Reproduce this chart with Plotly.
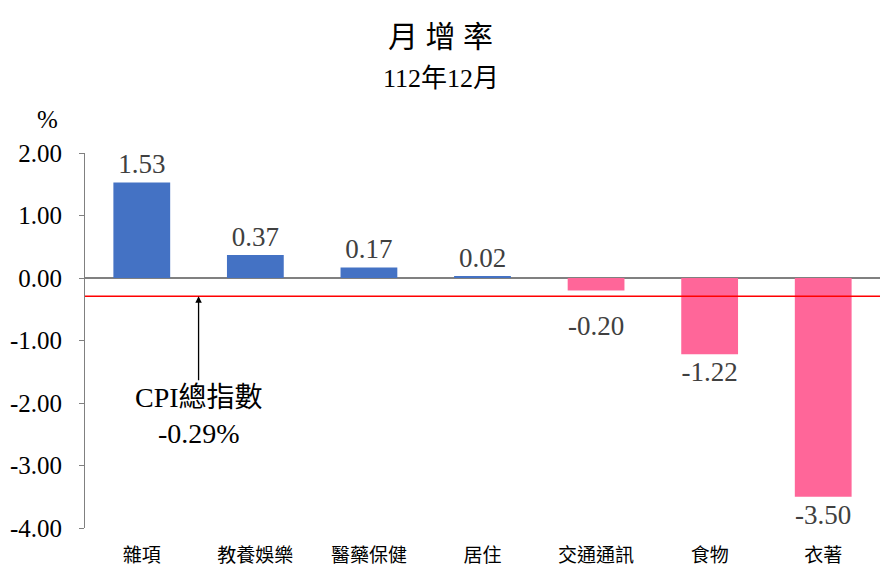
import plotly.graph_objects as go

categories = ["雜項", "教養娛樂", "醫藥保健", "居住", "交通通訊", "食物", "衣著"]
values = [1.53, 0.37, 0.17, 0.02, -0.20, -1.22, -3.50]
cpi_total = -0.29
y_ticks = [2, 1, 0, -1, -2, -3, -4]
y_tick_text = ["2.00", "1.00", "0.00", "-1.00", "-2.00", "-3.00", "-4.00"]

FONT = "Liberation Serif, Times New Roman, Noto Sans CJK TC, serif"
colors = ["#4472C4" if v >= 0 else "#FF6699" for v in values]

PLOT_TOP, PLOT_H, PLOT_L, PLOT_W = 153, 375, 85, 795

def py(pix):
    return 1 + (PLOT_TOP - pix) / PLOT_H

# labels of small negative bars are pushed below the CPI line
shifted = [(v < 0 and v > cpi_total) for v in values]

fig = go.Figure()
fig.add_trace(go.Bar(
    x=categories, y=values, marker=dict(color=colors, line=dict(width=0)),
    width=0.5, text=["" if s else f"{v:.2f}" for v, s in zip(values, shifted)],
    textposition="outside",
    textfont=dict(size=27, color="#404040", family=FONT), cliponaxis=False,
))
for c, v, s in zip(categories, values, shifted):
    if s:
        fig.add_annotation(x=c, y=v, xref="x", yref="y", text=f"{v:.2f}", showarrow=False,
                           yanchor="top", yshift=-18,
                           font=dict(size=27, color="#404040", family=FONT))

fig.add_shape(type="line", xref="paper", x0=0, x1=1, yref="y", y0=cpi_total, y1=cpi_total,
              line=dict(color="#FF0000", width=1.5))

fig.add_annotation(x=0.5, y=cpi_total, xref="x", yref="y",
                   text="CPI總指數<br>-0.29%", showarrow=True, arrowhead=2, arrowsize=1,
                   arrowwidth=1.3, arrowcolor="black", ax=0, ay=84, yanchor="top",
                   font=dict(size=28, color="black", family=FONT))
fig.add_annotation(xref="paper", yref="paper", x=0.5 + (440 - 482) / PLOT_W, y=py(37),
                   text="月 增 率", showarrow=False, xanchor="center", yanchor="middle",
                   font=dict(size=30, family=FONT, color="black"))
fig.add_annotation(xref="paper", yref="paper", x=0.5 + (440 - 482) / PLOT_W, y=py(78),
                   text="112年12月", showarrow=False, xanchor="center", yanchor="middle",
                   font=dict(size=26, family=FONT, color="black"))
fig.add_annotation(xref="paper", yref="paper", x=(47 - PLOT_L) / PLOT_W, y=py(120),
                   text="%", showarrow=False, xanchor="center", yanchor="middle",
                   font=dict(size=25, family=FONT, color="black"))

fig.update_layout(
    width=880, height=583, margin=dict(l=PLOT_L, r=0, t=PLOT_TOP, b=55),
    paper_bgcolor="white", plot_bgcolor="white", showlegend=False,
    font=dict(family=FONT, color="black"),
)

fig.update_yaxes(range=[-4, 2], tickvals=y_ticks, ticktext=y_tick_text, showgrid=False,
                 showline=True, linecolor="#808080", linewidth=1, ticks="outside", ticklen=5,
                 tickcolor="#808080", zeroline=True, zerolinecolor="#808080", zerolinewidth=1.5,
                 ticklabelstandoff=12,
                 tickfont=dict(size=25, family=FONT, color="black"))
fig.update_xaxes(showgrid=False, showline=False, ticks="", ticklabelstandoff=14,
                 tickfont=dict(size=19, family=FONT, color="black"))

fig.write_html("out.html")
